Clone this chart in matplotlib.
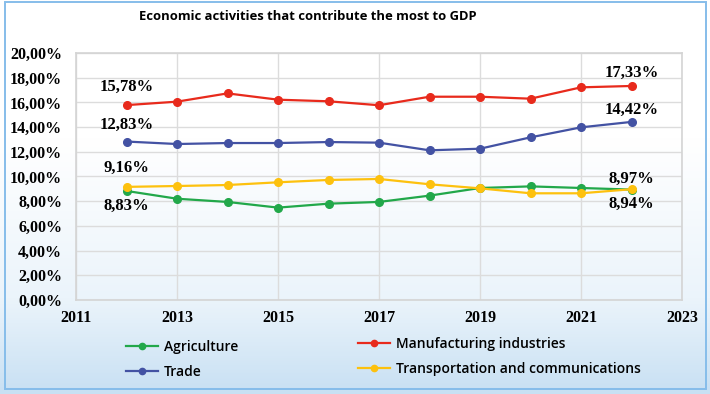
import matplotlib
matplotlib.use("Agg")
import matplotlib.pyplot as plt
import numpy as np
from matplotlib.patches import Rectangle
from matplotlib.colors import LinearSegmentedColormap

years = [2012, 2013, 2014, 2015, 2016, 2017, 2018, 2019, 2020, 2021, 2022]
agriculture = [8.83, 8.20, 7.94, 7.48, 7.80, 7.94, 8.45, 9.07, 9.20, 9.07, 8.94]
manufacturing = [15.78, 16.06, 16.73, 16.22, 16.09, 15.77, 16.46, 16.46, 16.30, 17.22, 17.33]
trade = [12.83, 12.63, 12.71, 12.71, 12.79, 12.74, 12.12, 12.25, 13.17, 13.98, 14.42]
transport = [9.16, 9.23, 9.31, 9.53, 9.72, 9.80, 9.37, 9.04, 8.64, 8.64, 8.97]

title = "Economic activities that contribute the most to GDP"
xticks = [2011, 2013, 2015, 2017, 2019, 2021, 2023]
yticks = [0, 2, 4, 6, 8, 10, 12, 14, 16, 18, 20]

C_GREEN = "#22a84a"
C_RED = "#e82a1c"
C_BLUE = "#4352a3"
C_YEL = "#fdc10e"

W, H = 710, 394
fig = plt.figure(figsize=(W / 100, H / 100), dpi=100)

# background gradient
bg = fig.add_axes([0, 0, 1, 1], zorder=-10)
cmap = LinearSegmentedColormap.from_list(
    "bg", [(0, "#ffffff"), (0.35, "#ffffff"), (0.76, "#ebf4fb"), (1.0, "#c8e0f3")])
grad = np.linspace(0, 1, 400).reshape(-1, 1)
bg.imshow(grad, aspect="auto", cmap=cmap, extent=[0, 1, 0, 1], origin="upper")
bg.set_xlim(0, 1)
bg.set_ylim(0, 1)
bg.axis("off")
bg.add_patch(Rectangle((5 / W, 1 - 389 / H), 701 / W, 387 / H, fill=False,
                       edgecolor="#86bdea", linewidth=1.4, transform=bg.transAxes))

ax = fig.add_axes([76 / W, 1 - 300 / H, (682 - 76) / W, (300 - 53) / H])
ax.patch.set_alpha(0)

serif = ["Liberation Serif", "DejaVu Serif"]
sans = ["Open Sans", "DejaVu Sans"]

series = [
    ("Agriculture", agriculture, C_GREEN),
    ("Trade", trade, C_BLUE),
    ("Manufacturing industries", manufacturing, C_RED),
    ("Transportation and communications", transport, C_YEL),
]
handles = {}
for name, vals, col in series:
    h, = ax.plot(years, vals, color=col, lw=1.6, marker="o", ms=5.5,
                 markeredgecolor=col, zorder=3, label=name)
    handles[name] = h

ax.set_xlim(2011, 2023)
ax.set_ylim(0, 20)
ax.set_xticks(xticks)
ax.set_yticks(yticks)
ax.set_yticklabels([f"{v:.2f}".replace(".", ",") + "%" for v in yticks])
ax.grid(True, color="#dcdcdc", lw=1.0)
ax.set_axisbelow(True)
for s in ax.spines.values():
    s.set_color("#d4d4d4")
    s.set_linewidth(1.2)
ax.tick_params(length=0)
ax.tick_params(axis="y", pad=10)
ax.tick_params(axis="x", pad=7)
for lab in ax.get_xticklabels() + ax.get_yticklabels():
    lab.set_fontfamily(serif)
    lab.set_fontweight("bold")
    lab.set_fontsize(11.5)

def fmt(v):
    return f"{v:.2f}".replace(".", ",") + "%"

labels = [
    (years[0], manufacturing[0], 18),
    (years[0], trade[0], 17),
    (years[0], transport[0], 19),
    (years[0], agriculture[0], -15),
    (years[-1], manufacturing[-1], 13),
    (years[-1], trade[-1], 12),
    (years[-1], transport[-1], 10),
    (years[-1], agriculture[-1], -14),
]
for x, y, off in labels:
    ax.annotate(fmt(y), (x, y), xytext=(0, off * 0.72), textcoords="offset points",
                ha="center", va="center", fontsize=12, fontweight="bold",
                family=serif, zorder=5)

fig.text(308 / W, 1 - 16 / H, title, ha="center", va="center", fontsize=9.4,
         fontweight="bold", family=sans)

leg_kw = dict(frameon=False, handlelength=2.3, handletextpad=0.4, labelspacing=0.8,
              prop={"family": sans, "size": 10, "weight": "semibold"}, borderaxespad=0,
              borderpad=0)
l1 = fig.legend([handles["Agriculture"], handles["Trade"]], ["Agriculture", "Trade"],
                loc="upper left", bbox_to_anchor=(126 / W, 1 - 340 / H), **leg_kw)
l2 = fig.legend([handles["Manufacturing industries"], handles["Transportation and communications"]],
                ["Manufacturing industries", "Transportation and communications"],
                loc="upper left", bbox_to_anchor=(358 / W, 1 - 337 / H), **leg_kw)
for lg in (l1, l2):
    for ln in lg.get_lines():
        ln.set_markersize(4.5)
        ln.set_linewidth(1.6)

fig.savefig("out.png", dpi=100)
